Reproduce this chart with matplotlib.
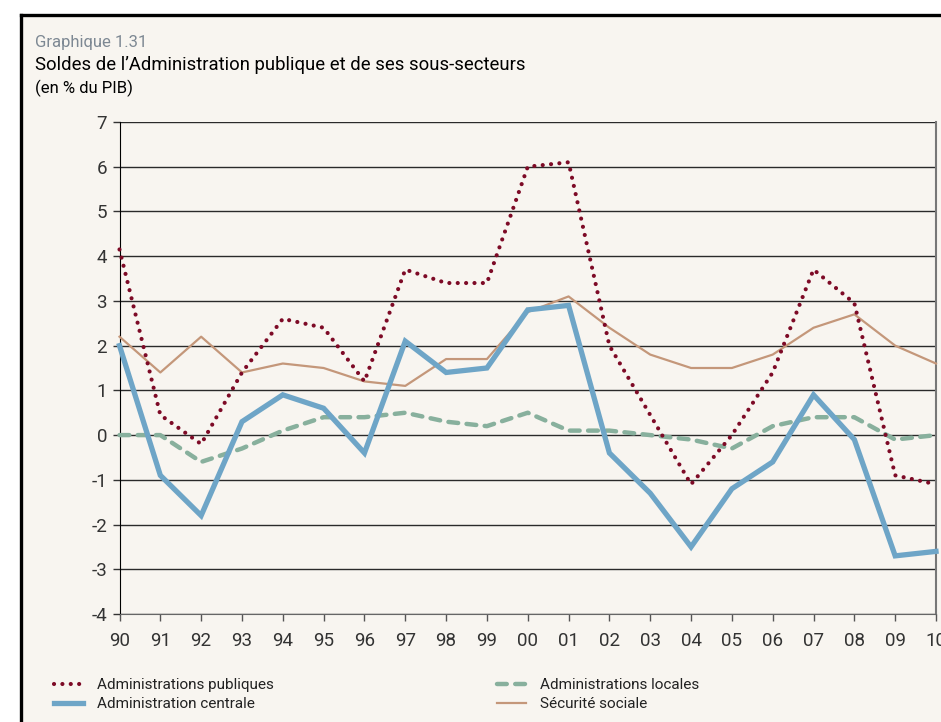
import matplotlib
matplotlib.use("Agg")
import matplotlib.pyplot as plt
from matplotlib.patches import Rectangle
from matplotlib.lines import Line2D

plt.rcParams["font.family"] = ["Roboto", "DejaVu Sans"]

years = list(range(1990, 2011))
year_labels = ["90", "91", "92", "93", "94", "95", "96", "97", "98", "99",
               "00", "01", "02", "03", "04", "05", "06", "07", "08", "09", "10"]

adm_publiques = [4.15, 0.45, -0.2, 1.4, 2.6, 2.4, 1.2, 3.7, 3.4, 3.4,
                 6.0, 6.1, 2.0, 0.45, -1.1, 0.0, 1.4, 3.7, 2.95, -0.9, -1.1]
adm_centrale = [2.0, -0.9, -1.8, 0.3, 0.9, 0.6, -0.4, 2.1, 1.4, 1.5,
                2.8, 2.9, -0.4, -1.3, -2.5, -1.2, -0.6, 0.9, -0.1, -2.7, -2.6]
adm_locales = [0.0, 0.0, -0.6, -0.3, 0.1, 0.4, 0.4, 0.5, 0.3, 0.2,
               0.5, 0.1, 0.1, 0.0, -0.1, -0.3, 0.2, 0.4, 0.4, -0.1, 0.0]
secu_sociale = [2.2, 1.4, 2.2, 1.4, 1.6, 1.5, 1.2, 1.1, 1.7, 1.7,
                2.75, 3.1, 2.4, 1.8, 1.5, 1.5, 1.8, 2.4, 2.7, 2.0, 1.6]

BG = "#f8f5f0"
RED = "#7d0a26"
BLUE = "#6ea5c7"
GREEN = "#88b09d"
TAN = "#c4977a"
TEXT = "#333333"

W, H = 941, 722
fig = plt.figure(figsize=(W / 100, H / 100), dpi=100)
fig.patch.set_facecolor("white")

# panel with black frame on the left and top
fig.patches.append(Rectangle((21 / W, 0), 1, (H - 16) / H, transform=fig.transFigure,
                             facecolor=BG, edgecolor="none", zorder=-5))
fig.lines.append(Line2D([21 / W, 21 / W], [0, (H - 15) / H], transform=fig.transFigure,
                        color="black", lw=2.4, solid_capstyle="projecting", zorder=-4))
fig.lines.append(Line2D([21 / W, 1], [(H - 15) / H, (H - 15) / H], transform=fig.transFigure,
                        color="black", lw=2.4, solid_capstyle="projecting", zorder=-4))

fig.text(35 / W, 1 - 42 / H, "Graphique 1.31", fontsize=12, color="#7d8893", va="center")
fig.text(35 / W, 1 - 65 / H, "Soldes de l\u2019Administration publique et de ses sous-secteurs",
         fontsize=13.3, color="black", va="center")
fig.text(35 / W, 1 - 88 / H, "(en % du PIB)", fontsize=12, color="black", va="center")

ax = fig.add_axes([119.5 / W, (H - 614) / H, (936 - 119.5) / W, (614 - 122) / H])
ax.set_facecolor(BG)

ax.plot(years, secu_sociale, color=TAN, lw=1.6, zorder=3, clip_on=False)
ax.plot(years, adm_locales, color=GREEN, lw=3.2, linestyle=(0, (2.2, 1.9)),
        dash_capstyle="round", zorder=3, clip_on=False)
ax.plot(years, adm_centrale, color=BLUE, lw=3.8, solid_joinstyle="miter", zorder=4,
        clip_on=False)
ax.plot(years, adm_publiques, color=RED, lw=3.0, linestyle=(0, (0.01, 2.0)),
        dash_capstyle="round", zorder=5, clip_on=False)

ax.set_xlim(1990, 2010)
ax.set_ylim(-4, 7)
ax.set_xticks(years)
ax.set_xticklabels(year_labels)
ax.set_yticks(range(-4, 8))
ax.set_yticklabels([str(v) for v in range(-4, 8)])
ax.yaxis.grid(True, color="#2a2a2a", lw=1.0)
ax.set_axisbelow(True)
ax.tick_params(axis="both", labelsize=13.5, colors=TEXT, length=5, width=1, direction="out")
ax.tick_params(axis="x", pad=8, color="#555555")
ax.tick_params(axis="y", pad=4)
ax.spines["left"].set_color("black")
ax.spines["top"].set_visible(False)
ax.spines["bottom"].set_color("#666666")
ax.spines["right"].set_color("#777777")
ax.spines["right"].set_linewidth(1.5)

handles = [
    Line2D([], [], color=RED, lw=3.0, linestyle=(0, (0.01, 2.0)), dash_capstyle="round"),
    Line2D([], [], color=BLUE, lw=3.8),
    Line2D([], [], color=GREEN, lw=3.2, linestyle=(0, (2.2, 1.9)), dash_capstyle="round"),
    Line2D([], [], color=TAN, lw=1.6),
]
labels = ["Administrations publiques", "Administration centrale",
          "Administrations locales", "Sécurité sociale"]
fig.legend(handles, labels, loc="upper left", bbox_to_anchor=(48 / W, 1 - 672 / H),
           ncol=2, frameon=False, fontsize=11, handlelength=1.9, handletextpad=0.9,
           columnspacing=14.6, labelspacing=0.35, borderaxespad=0, labelcolor="#222222")

fig.savefig("out.png", dpi=100, facecolor=fig.get_facecolor())
